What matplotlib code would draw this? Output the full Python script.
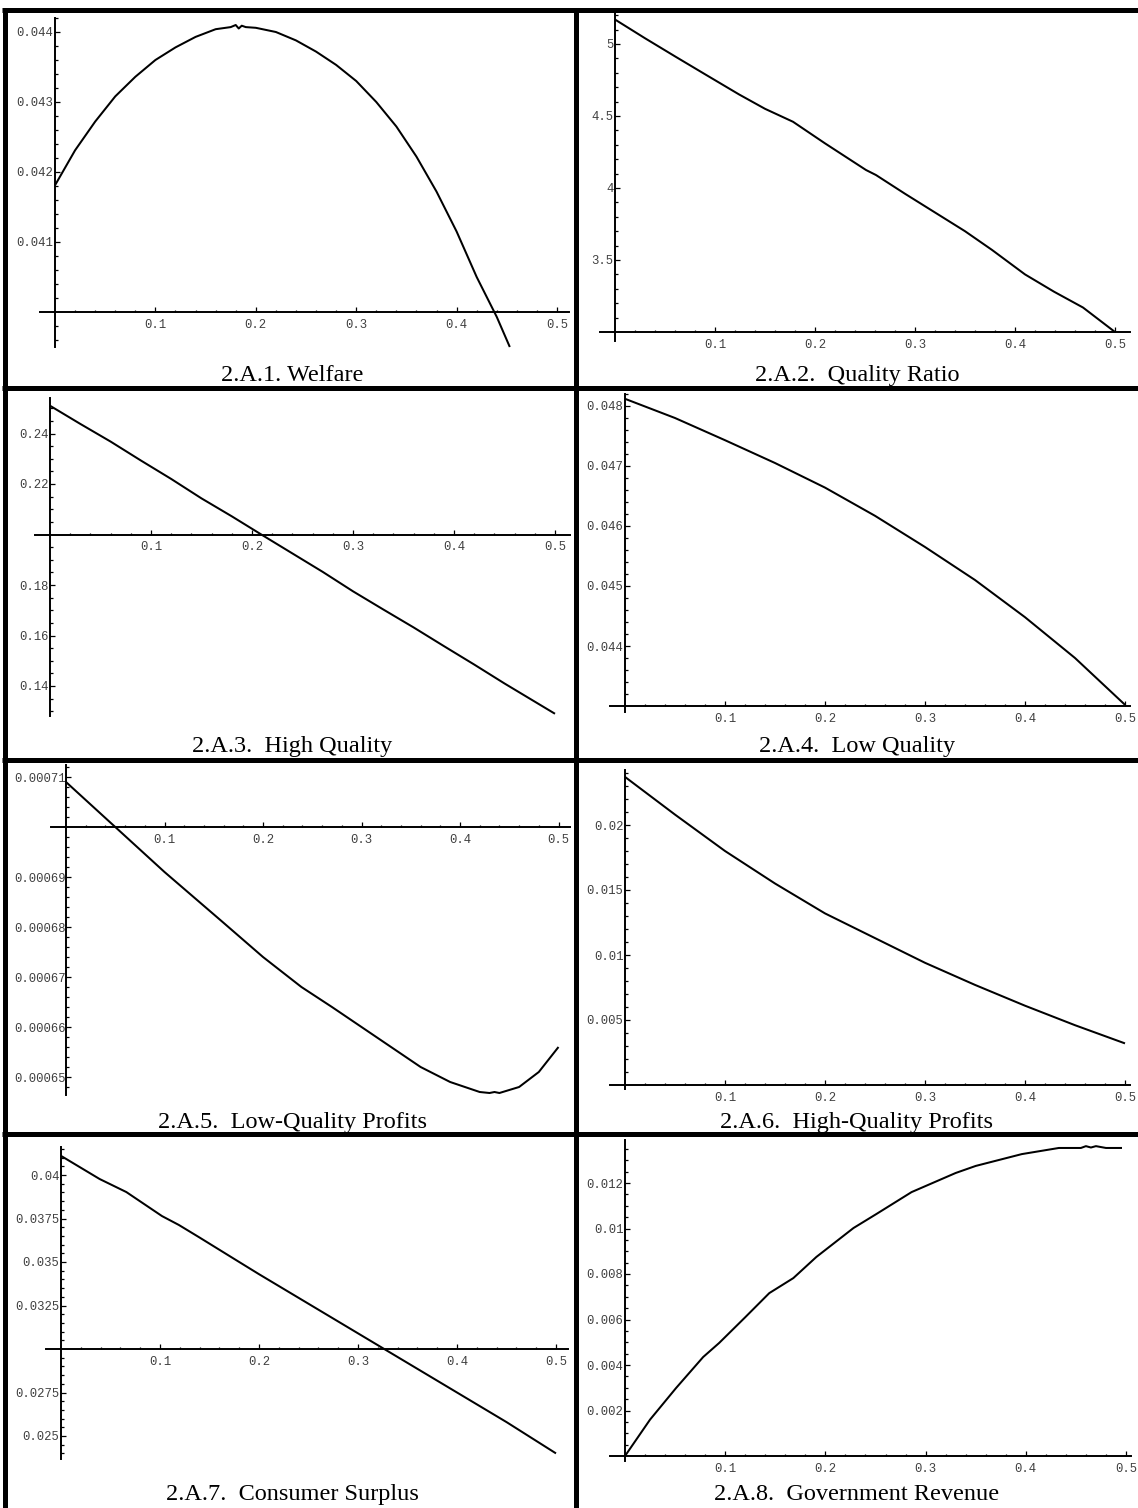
import matplotlib
matplotlib.use("Agg")
import matplotlib.pyplot as plt
from matplotlib.lines import Line2D
import numpy as np

W, H = 1138, 1508
DPI = 100

# ---------------- data ----------------
tax_ticks = [0.1, 0.2, 0.3, 0.4, 0.5]
tax_labels = ["0.1", "0.2", "0.3", "0.4", "0.5"]

welfare_x = [0, 0.02, 0.04, 0.06, 0.08, 0.10, 0.12, 0.14, 0.16, 0.175, 0.18, 0.183,
             0.186, 0.19, 0.20, 0.22, 0.24, 0.26, 0.28, 0.30, 0.32, 0.34, 0.36, 0.38,
             0.40, 0.42, 0.44, 0.453]
welfare_y = [0.04181, 0.04231, 0.04272, 0.04308, 0.04336, 0.04360, 0.04378, 0.04393,
             0.04404, 0.04407, 0.04410, 0.04405, 0.04409, 0.04407, 0.04406, 0.04400,
             0.04388, 0.04372, 0.04353, 0.04330, 0.04300, 0.04265, 0.04222, 0.04172,
             0.04115, 0.04050, 0.03993, 0.03950]
welfare_yticks = [0.041, 0.042, 0.043, 0.044]
welfare_ylabels = ["0.041", "0.042", "0.043", "0.044"]

ratio_x = [0, 0.03, 0.061, 0.09, 0.124, 0.15, 0.178, 0.21, 0.251, 0.261, 0.29, 0.32,
           0.35, 0.377, 0.41, 0.439, 0.468, 0.50]
ratio_y = [5.17, 5.04, 4.91, 4.79, 4.65, 4.55, 4.46, 4.31, 4.125, 4.09, 3.96, 3.83,
           3.70, 3.57, 3.40, 3.28, 3.17, 3.00]
ratio_yticks = [3.5, 4, 4.5, 5]
ratio_ylabels = ["3.5", "4", "4.5", "5"]

highq_x = [0, 0.03, 0.06, 0.09, 0.12, 0.15, 0.18, 0.21, 0.24, 0.27, 0.30, 0.33, 0.36,
           0.39, 0.42, 0.45, 0.48, 0.50]
highq_y = [0.2510, 0.2438, 0.2368, 0.2293, 0.2220, 0.2143, 0.2072, 0.1998, 0.1925,
           0.1852, 0.1775, 0.1703, 0.1632, 0.1558, 0.1485, 0.1410, 0.1338, 0.1290]
highq_yticks = [0.14, 0.16, 0.18, 0.22, 0.24]
highq_ylabels = ["0.14", "0.16", "0.18", "0.22", "0.24"]

lowq_x = [0, 0.05, 0.10, 0.15, 0.20, 0.25, 0.30, 0.35, 0.40, 0.45, 0.50]
lowq_y = [0.04812, 0.04780, 0.04743, 0.04705, 0.04664, 0.04617, 0.04565, 0.04510,
          0.04448, 0.04380, 0.04302]
lowq_yticks = [0.044, 0.045, 0.046, 0.047, 0.048]
lowq_ylabels = ["0.044", "0.045", "0.046", "0.047", "0.048"]

lqprof_x = [0, 0.05, 0.10, 0.159, 0.20, 0.239, 0.27, 0.30, 0.33, 0.36, 0.39, 0.42,
            0.43, 0.435, 0.44, 0.46, 0.48, 0.50]
lqprof_y = [0.000709, 0.000700, 0.000691, 0.000681, 0.000674, 0.000668, 0.000664,
            0.000660, 0.000656, 0.000652, 0.000649, 0.000647, 0.0006468, 0.000647,
            0.0006468, 0.000648, 0.000651, 0.000656]
lqprof_yticks = [0.00065, 0.00066, 0.00067, 0.00068, 0.00069, 0.00071]
lqprof_ylabels = ["0.00065", "0.00066", "0.00067", "0.00068", "0.00069", "0.00071"]

hqprof_x = [0, 0.05, 0.10, 0.15, 0.20, 0.25, 0.30, 0.35, 0.40, 0.45, 0.50]
hqprof_y = [0.0237, 0.0208, 0.0180, 0.0155, 0.0132, 0.0113, 0.0094, 0.0077, 0.0061,
            0.0046, 0.0032]
hqprof_yticks = [0.005, 0.01, 0.015, 0.02]
hqprof_ylabels = ["0.005", "0.01", "0.015", "0.02"]

cs_x = [0, 0.039, 0.066, 0.102, 0.119, 0.139, 0.18, 0.20, 0.25, 0.30, 0.35, 0.40,
        0.45, 0.50]
cs_y = [0.0411, 0.03977, 0.03902, 0.03764, 0.03713, 0.03644, 0.0350, 0.0343, 0.0326,
        0.0309, 0.0292, 0.0275, 0.0258, 0.0240]
cs_yticks = [0.025, 0.0275, 0.0325, 0.035, 0.0375, 0.04]
cs_ylabels = ["0.025", "0.0275", "0.0325", "0.035", "0.0375", "0.04"]

gov_x = [0, 0.025, 0.051, 0.078, 0.094, 0.12, 0.144, 0.168, 0.191, 0.228, 0.251,
         0.286, 0.33, 0.35, 0.396, 0.433, 0.455, 0.46, 0.465, 0.47, 0.475, 0.48, 0.496]
gov_y = [0, 0.0016, 0.00299, 0.00435, 0.00497, 0.0061, 0.00716, 0.00782, 0.00875,
         0.01002, 0.01064, 0.0116, 0.01244, 0.01275, 0.01327, 0.01354, 0.01354,
         0.01362, 0.01356, 0.01362, 0.01358, 0.01354, 0.01354]
gov_yticks = [0.002, 0.004, 0.006, 0.008, 0.01, 0.012]
gov_ylabels = ["0.002", "0.004", "0.006", "0.008", "0.01", "0.012"]

# ---------------- drawing ----------------
fig = plt.figure(figsize=(W / DPI, H / DPI), dpi=DPI)
fig.patch.set_facecolor("white")

TICK_FONT = dict(family="Liberation Mono", size=8.8, color="#404040")
CAP_FONT = dict(family="Liberation Serif", size=17.5, color="black")


def ticks_between(lo, hi, step, skip):
    vals = []
    n0 = int(np.ceil(lo / step - 1e-9))
    n1 = int(np.floor(hi / step + 1e-9))
    for n in range(n0, n1 + 1):
        v = n * step
        if all(abs(v - s) > step * 0.1 for s in skip):
            vals.append(v)
    return vals


def panel(cell, x0, kx, yref, yref_px, ky, origin, xs, ys, yticks, ylabels,
          ystep, yext, xext, caption, cap_base, ypad=1.0):
    L, T, R, B = cell
    ax = fig.add_axes([L / W, 1 - B / H, (R - L) / W, (B - T) / H])
    ax.set_xlim((L - x0) / kx, (R - x0) / kx)
    ax.set_ylim(yref - (B - yref_px) / ky, yref + (yref_px - T) / ky)
    ax.patch.set_visible(False)
    for s in ("top", "right"):
        ax.spines[s].set_visible(False)
    for s in ("left", "bottom"):
        ax.spines[s].set_linewidth(1.4)
        ax.spines[s].set_color("black")
    ax.spines["left"].set_position(("data", 0))
    ax.spines["bottom"].set_position(("data", origin))
    ax.spines["left"].set_bounds(*yext)
    ax.spines["bottom"].set_bounds(*xext)

    ax.set_xticks(tax_ticks)
    ax.set_xticklabels(tax_labels)
    ax.set_xticks(ticks_between(0.001, xext[1], 0.02, tax_ticks), minor=True)
    ax.set_yticks(yticks)
    ax.set_yticklabels(ylabels)
    ax.set_yticks(ticks_between(yext[0], yext[1], ystep, yticks + [origin]), minor=True)

    ax.tick_params(which="both", direction="in", width=0.9, color="black")
    ax.tick_params(which="major", length=3.3)
    ax.tick_params(which="minor", length=1.8)
    ax.tick_params(axis="x", which="major", pad=5)
    ax.tick_params(axis="y", which="major", pad=ypad)
    for lab in ax.get_xticklabels() + ax.get_yticklabels():
        lab.set_fontfamily(TICK_FONT["family"])
        lab.set_fontsize(TICK_FONT["size"])
        lab.set_color(TICK_FONT["color"])

    ax.plot(xs, ys, color="black", lw=1.45, solid_joinstyle="round",
            solid_capstyle="butt", clip_on=False)
    fig.text((L + R) / 2 / W, 1 - cap_base / H, caption, ha="center",
             va="baseline", **CAP_FONT)
    return ax


COL = 576
ROWS = [10, 388, 760, 1134, 1508]

panel((8, ROWS[0], COL, ROWS[1]), 55, 1004, 0.044, 32, 70000, 0.040,
      welfare_x, welfare_y, welfare_yticks, welfare_ylabels, 0.0002,
      (0.03950, 0.04420), (-0.015, 0.512), "2.A.1. Welfare", 381)

panel((COL, ROWS[0], W, ROWS[1]), 615, 1000, 5.0, 44, 144, 3.0,
      ratio_x, ratio_y, ratio_yticks, ratio_ylabels, 0.1,
      (2.94, 5.22), (-0.015, 0.515), "2.A.2.  Quality Ratio", 381)

panel((8, ROWS[1], COL, ROWS[2]), 50, 1010, 0.14, 686, 2525, 0.20,
      highq_x, highq_y, highq_yticks, highq_ylabels, 0.005,
      (0.128, 0.254), (-0.015, 0.515), "2.A.3.  High Quality", 752)

panel((COL, ROWS[1], W, ROWS[2]), 625, 1000, 0.043, 706, 60000, 0.043,
      lowq_x, lowq_y, lowq_yticks, lowq_ylabels, 0.0002,
      (0.04290, 0.04820), (-0.015, 0.505), "2.A.4.  Low Quality", 752)

panel((8, ROWS[2], COL, ROWS[3]), 66, 985, 0.0007, 827, 5.0e6, 0.0007,
      lqprof_x, lqprof_y, lqprof_yticks, lqprof_ylabels, 0.000002,
      (0.0006464, 0.0007125), (-0.015, 0.512), "2.A.5.  Low-Quality Profits", 1128,
      ypad=0.0)

panel((COL, ROWS[2], W, ROWS[3]), 625, 1000, 0.0, 1085, 13000, 0.0,
      hqprof_x, hqprof_y, hqprof_yticks, hqprof_ylabels, 0.001,
      (-0.0003, 0.0242), (-0.015, 0.505), "2.A.6.  High-Quality Profits", 1128)

panel((8, ROWS[3], COL, H), 61, 990, 0.04, 1175, 17400, 0.03,
      cs_x, cs_y, cs_yticks, cs_ylabels, 0.0005,
      (0.0237, 0.0416), (-0.015, 0.512), "2.A.7.  Consumer Surplus", 1500)

panel((COL, ROWS[3], W, H), 625, 1002, 0.0, 1456, 22750, 0.0,
      gov_x, gov_y, gov_yticks, gov_ylabels, 0.0005,
      (-0.0002, 0.0139), (-0.015, 0.505), "2.A.8.  Government Revenue", 1500)

# table rules
def rule(x1, y1, x2, y2, lw=3.6):
    fig.add_artist(Line2D([x1 / W, x2 / W], [1 - y1 / H, 1 - y2 / H],
                          transform=fig.transFigure, color="black", lw=lw,
                          solid_capstyle="butt", zorder=10))

rule(2, ROWS[0], W, ROWS[0])
rule(5, ROWS[0] - 2, 5, H)
rule(COL, ROWS[0] - 2, COL, H)
for yy in ROWS[1:4]:
    rule(2, yy, W, yy)

fig.savefig("out.png", dpi=DPI, facecolor="white")
